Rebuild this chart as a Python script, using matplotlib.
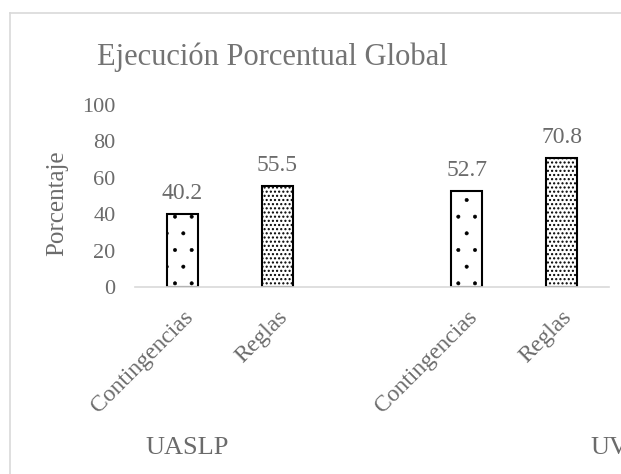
import numpy as np
import matplotlib.pyplot as plt
from matplotlib.lines import Line2D

# Datos
groups = ['UASLP', 'UV']
categories = ['Contingencias', 'Reglas']
values_uaslp = [40.2, 55.5]
values_uv = [52.7, 70.8]
yticks = [0, 20, 40, 60, 80, 100]

gray = '#6b6b6b'
plt.rcParams['font.family'] = ['Liberation Serif', 'DejaVu Serif']
plt.rcParams['hatch.color'] = 'black'

W, H = 621, 474
fig = plt.figure(figsize=(W / 100, H / 100), dpi=100)
ax = fig.add_axes([135 / W, 1 - 287 / H, (609 - 135) / W, (287 - 105) / H])

# posiciones: un hueco entre grupos
pos = [0, 1, 3, 4]
vals = values_uaslp + values_uv
labels = categories + categories
hatches = ['.', '....', '.', '....']
hatch_lw = [0.4, 1.0, 0.4, 1.0]

for p, v, h, lw in zip(pos, vals, hatches, hatch_lw):
    plt.rcParams['hatch.linewidth'] = lw
    b = ax.bar(p, v, width=0.33, color='white', edgecolor='black', linewidth=1.5, hatch=h)[0]
    try:
        b.set_hatch_linewidth(lw)
    except AttributeError:
        pass

for p, v in zip(pos, vals):
    ax.annotate(f'{v:.1f}', (p, v), xytext=(0, 7), textcoords='offset points',
                ha='center', va='bottom', fontsize=17, color=gray)

ax.set_xlim(-0.5, 4.5)
ax.set_ylim(0, 100)
ax.set_yticks(yticks)
ax.set_yticklabels([str(t) for t in yticks], fontsize=16, color=gray)
ax.tick_params(axis='y', length=0, pad=14)
ax.set_xticks(pos)
ax.set_xticklabels(labels, rotation=45, ha='right', va='top', rotation_mode='anchor',
                   fontsize=17, color=gray)
ax.tick_params(axis='x', length=0, pad=14)

for s in ['top', 'right', 'left']:
    ax.spines[s].set_visible(False)
ax.spines['bottom'].set_color('#d9d9d9')
ax.spines['bottom'].set_linewidth(1.2)

ax.set_ylabel('Porcentaje', fontsize=18, color=gray)
ax.yaxis.set_label_coords(-0.14, 0.46)

# etiquetas de grupo
fig.text(187 / W, 1 - 448 / H, groups[0], ha='center', va='center', fontsize=19, color=gray)
fig.text(590 / W, 1 - 448 / H, groups[1], ha='left', va='center', fontsize=19, color=gray)

fig.text(272 / W, 1 - 57 / H, 'Ejecución Porcentual Global', ha='center', va='center',
         fontsize=22, color='#737373')

# borde del gráfico
fig.add_artist(Line2D([10 / W, 1], [1 - 13 / H, 1 - 13 / H], color='#d9d9d9', lw=1.2))
fig.add_artist(Line2D([10 / W, 10 / W], [0, 1 - 13 / H], color='#d9d9d9', lw=1.2))

fig.savefig('out.png', dpi=100)
